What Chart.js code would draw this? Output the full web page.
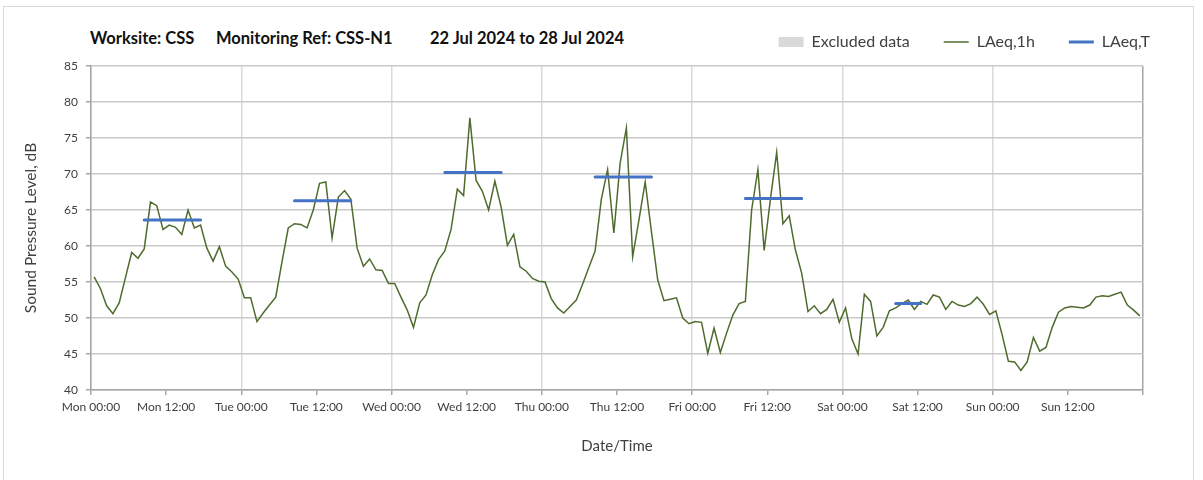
<!DOCTYPE html>
<html>
<head>
<meta charset="utf-8">
<script src="https://cdn.jsdelivr.net/npm/chart.js@4.4.1/dist/chart.umd.min.js"></script>
<style>
    body { margin: 0; background: #fff; }
    #wrap { position: relative; width: 1203px; height: 480px; overflow: hidden; font-family: Lato, sans-serif; }
    #frame { position: absolute; left: 3px; top: 6px; width: 1189px; height: 490px; border: 1px solid #d9d9d9; }
    .ttl { position: absolute; top: 28px; font-weight: bold; font-size: 16.5px; color: #111; white-space: nowrap; }
    canvas { position: absolute; left: 0; top: 0; }
</style>
</head>
<body>
<div id="wrap">
    <div id="frame"></div>
    <span class="ttl" style="left:90px">Worksite: CSS</span>
    <span class="ttl" style="left:216px">Monitoring Ref: CSS-N1</span>
    <span class="ttl" style="left:430px">22 Jul 2024 to 28 Jul 2024</span>
    <canvas id="noise-chart" width="1203" height="480"></canvas>
</div>
<script>
// ---- data (hourly LAeq, Mon 22 Jul 00:00 .. Sun 28 Jul 23:00) ----
const tickLabels = ['Mon 00:00', 'Mon 12:00', 'Tue 00:00', 'Tue 12:00', 'Wed 00:00', 'Wed 12:00',
    'Thu 00:00', 'Thu 12:00', 'Fri 00:00', 'Fri 12:00', 'Sat 00:00', 'Sat 12:00', 'Sun 00:00', 'Sun 12:00'];

const laeq1h = [
    // Mon
    55.7, 54.1, 51.7, 50.6, 52.1, 55.6, 59.1, 58.3, 59.6, 66.1, 65.6, 62.3,
    62.9, 62.6, 61.6, 65.0, 62.5, 62.9, 59.7, 57.9, 59.9, 57.2, 56.4, 55.4,
    // Tue
    52.8, 52.8, 49.5, 50.7, 51.8, 52.9, 57.8, 62.5, 63.1, 63.0, 62.5, 65.0,
    68.7, 68.9, 61.1, 66.8, 67.7, 66.5, 59.7, 57.2, 58.2, 56.7, 56.6, 54.8,
    // Wed
    54.8, 52.9, 51.1, 48.7, 52.1, 53.2, 56.0, 58.1, 59.3, 62.3, 67.9, 67.0,
    77.8, 69.1, 67.6, 65.0, 69.0, 65.4, 60.1, 61.6, 57.1, 56.5, 55.5, 55.1,
    // Thu
    55.0, 52.7, 51.4, 50.7, 51.6, 52.5, 54.7, 57.0, 59.3, 66.5, 70.6, 61.8,
    71.5, 76.4, 58.5, 63.6, 68.9, 62.0, 55.3, 52.4, 52.6, 52.8, 50.0, 49.2,
    // Fri
    49.5, 49.4, 45.1, 48.6, 45.2, 47.9, 50.4, 52.0, 52.3, 65.0, 70.6, 59.4,
    66.5, 73.0, 63.1, 64.2, 59.4, 56.2, 50.9, 51.7, 50.6, 51.2, 52.6, 49.4,
    // Sat
    51.4, 47.1, 45.0, 53.3, 52.3, 47.5, 48.7, 51.0, 51.4, 52.0, 52.5, 51.2,
    52.3, 51.9, 53.2, 52.9, 51.2, 52.3, 51.8, 51.6, 52.0, 52.9, 51.9, 50.5,
    // Sun
    51.0, 47.7, 44.0, 43.9, 42.7, 43.9, 47.3, 45.4, 45.9, 48.7, 50.8, 51.4,
    51.6, 51.5, 51.4, 51.8, 52.9, 53.1, 53.0, 53.3, 53.6, 51.8, 51.1, 50.3
];

// LAeq,T over each daytime period (hour index from Mon 00:00)
const periodStart = [8, 32, 56, 80, 104, 128];
const periodEnd = [18, 42, 66, 90, 114, 133];
const laeqT = [63.6, 66.3, 70.2, 69.6, 66.6, 52.0];

// hourly values sit in the middle of their hour
const hourlyPoints = laeq1h.map((v, i) => ({ x: i + 0.5, y: v }));
const periodPoints = [];
laeqT.forEach((v, k) => {
    periodPoints.push({ x: periodStart[k] + 0.5, y: v });
    periodPoints.push({ x: periodEnd[k] - 0.5, y: v });
    periodPoints.push({ x: periodEnd[k], y: null });
});

const TXT = '#404040';
const AXIS = '#a6a6a6';

new Chart(document.getElementById('noise-chart'), {
    type: 'line',
    data: {
        datasets: [
            { label: 'Excluded data', data: [], backgroundColor: '#d9d9d9', borderColor: '#d9d9d9',
              borderWidth: 0, pointStyle: 'rect', order: 2 },
            { label: 'LAeq,1h', data: hourlyPoints, borderColor: '#4f6b2e', backgroundColor: '#4f6b2e',
              borderWidth: 1.5, pointRadius: 0, pointStyle: 'line', tension: 0, order: 1 },
            { label: 'LAeq,T', data: periodPoints, borderColor: '#4472c4', backgroundColor: '#4472c4',
              borderWidth: 3, borderCapStyle: 'round', pointRadius: 0, pointStyle: 'line', spanGaps: false, order: 0 }
        ]
    },
    options: {
        responsive: false,
        animation: false,
        devicePixelRatio: 1,
        layout: { padding: { top: 0, right: 19, bottom: 0, left: 0 } },
        plugins: {
            tooltip: { enabled: false },
            legend: {
                position: 'top',
                align: 'end',
                labels: {
                    usePointStyle: true, pointStyleWidth: 25, boxHeight: 10,
                    color: TXT, font: { family: 'Lato', size: 16 }, padding: 34,
                    sort: (a, b) => a.datasetIndex - b.datasetIndex
                }
            }
        },
        scales: {
            x: {
                type: 'linear', min: 0, max: 168, position: 'bottom',
                ticks: {
                    stepSize: 12, autoSkip: false, maxRotation: 0, padding: 5,
                    color: TXT, font: { family: 'Lato', size: 12 },
                    callback: (v) => tickLabels[v / 12] ?? ''
                },
                grid: {
                    lineWidth: 1.5, tickLength: 5, tickColor: AXIS,
                    color: (c) => {
                        const v = c.tick ? c.tick.value : 0;
                        if (v === 168) return AXIS;
                        return v % 24 === 0 ? '#dadada' : 'rgba(0,0,0,0)';
                    }
                },
                border: { color: AXIS, width: 1.5 },
                title: { display: true, text: 'Date/Time', color: TXT, font: { family: 'Lato', size: 15 },
                         padding: { top: 0, bottom: 25 } },
                afterFit: (s) => { s.height = 90; }
            },
            xTop: {
                type: 'linear', position: 'top', display: true,
                grid: { display: false }, ticks: { display: false }, border: { display: false },
                afterFit: (s) => { s.height = 6; }
            },
            y: {
                min: 40, max: 85,
                ticks: { stepSize: 5, padding: 8, color: TXT, font: { family: 'Lato', size: 12 } },
                grid: { color: '#c9c9c9', lineWidth: 1.5, tickLength: 5, tickColor: AXIS },
                border: { color: AXIS, width: 1.5 },
                title: { display: true, text: 'Sound Pressure Level, dB', color: TXT,
                         font: { family: 'Lato', size: 15.5 }, padding: { top: 22, bottom: 0 } },
                afterFit: (s) => { s.width = 91; }
            },
            yRight: {
                type: 'linear', position: 'right', display: true,
                grid: { display: false }, ticks: { display: false }, border: { display: false },
                afterFit: (s) => { s.width = 41; }
            }
        }
    }
});
</script>
</body>
</html>
